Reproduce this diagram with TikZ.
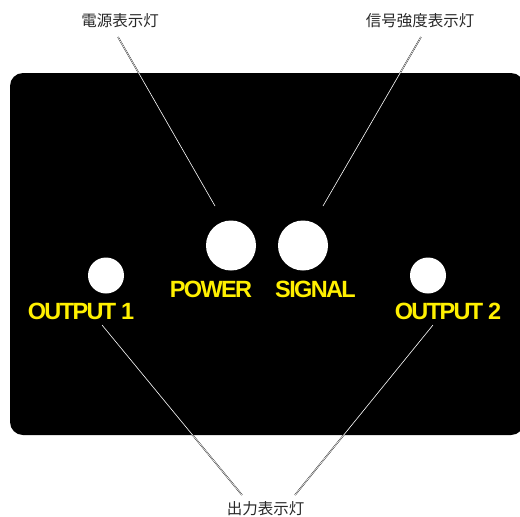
\documentclass[tikz,border=0pt]{standalone}
\usepackage{fontspec}
\setmainfont{Liberation Sans}
\newfontfamily\panelfont{Liberation Sans}[LetterSpace=-7]
\newfontfamily\cjk{Noto Sans CJK JP}
\definecolor{panelyellow}{RGB}{255,240,0}
\definecolor{cjkgray}{RGB}{40,40,40}
\begin{document}
\begin{tikzpicture}[x=1pt,y=-1pt,
  lamp/.style={circle, fill=white, inner sep=0pt},
  paneltext/.style={text=panelyellow, font=\panelfont\bfseries\fontsize{23.5}{23.5}\selectfont, inner sep=0pt, anchor=base},
  callout/.style={text=cjkgray, font=\cjk\fontsize{15.5}{15.5}\selectfont, inner sep=0pt},
  leader/.style={draw=black, double=white, line width=0.35pt, double distance=0.6pt}]
\useasboundingbox (0,0) rectangle (520,517);
\clip (0,0) rectangle (520,517);
\fill[black, rounded corners=13pt] (10,73) rectangle (524,435);
% lamps
\node[lamp, minimum size=50pt] (pwr) at (231,245.5) {};
\node[lamp, minimum size=50pt] (sig) at (303,245.5) {};
\node[lamp, minimum size=36pt] (out1) at (106,275.5) {};
\node[lamp, minimum size=36pt] (out2) at (428,275.5) {};
% panel labels
\node[paneltext] (pwrt) at (211,297) {POWER};
\node[paneltext] (sigt) at (315.5,297) {SIGNAL};
\node[paneltext] (out1t) at (81,319) {OUTPUT 1};
\node[paneltext] (out2t) at (448,319) {OUTPUT 2};
% callouts
\node[callout] (pwrl) at (120,21) {電源表示灯};
\node[callout] (sigl) at (420,21) {信号強度表示灯};
\node[callout] (outl) at (265.5,509) {出力表示灯};
% leader ends
\coordinate (pa) at (118,37);
\coordinate (pb) at (215,206);
\coordinate (sa) at (421,37);
\coordinate (sb) at (323,206);
\coordinate (oa) at (102,325);
\coordinate (ob) at (242,495);
\coordinate (qa) at (433,325);
\coordinate (qb) at (295,495);
\draw[leader] (pa) -- (pb);
\draw[leader] (sa) -- (sb);
\draw[leader] (oa) -- (ob);
\draw[leader] (qa) -- (qb);
\end{tikzpicture}
\end{document}
